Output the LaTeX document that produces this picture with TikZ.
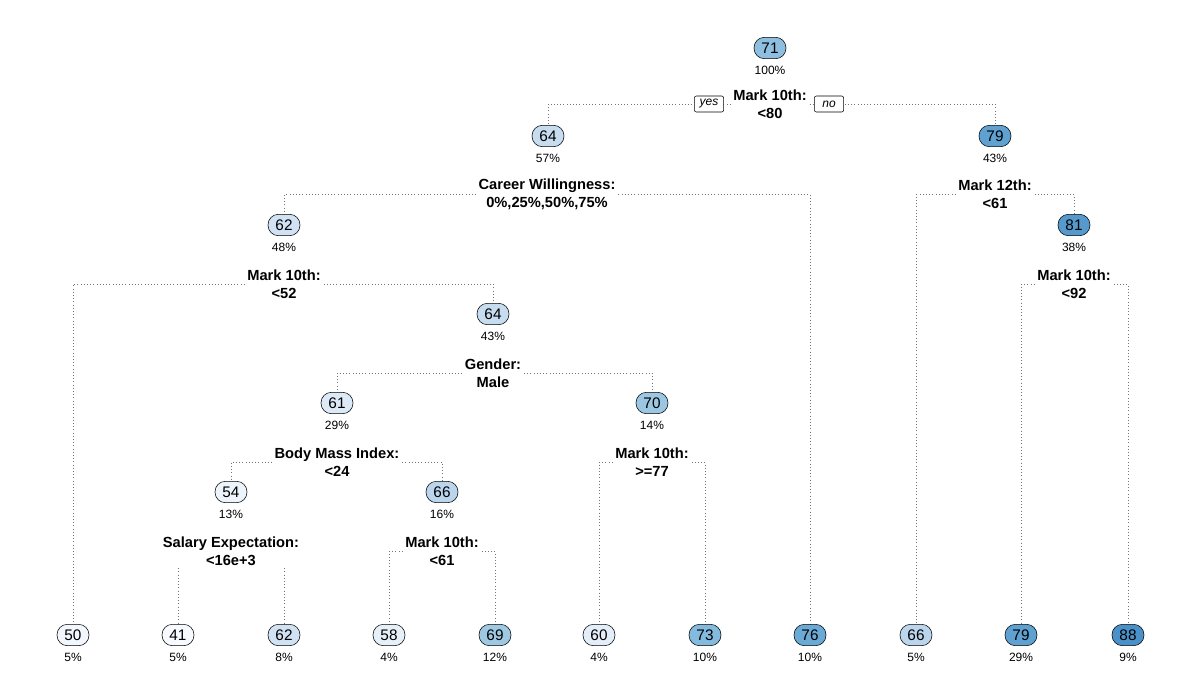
\documentclass[tikz,border=0pt]{standalone}
\usepackage{fontspec}
\setmainfont{Liberation Sans}
\usetikzlibrary{calc,positioning}
\definecolor{b41}{RGB}{247,251,255}
\definecolor{b50}{RGB}{242,247,253}
\definecolor{b54}{RGB}{237,244,251}
\definecolor{b58}{RGB}{230,240,249}
\definecolor{b60}{RGB}{227,238,249}
\definecolor{b61}{RGB}{220,233,246}
\definecolor{b62}{RGB}{208,226,243}
\definecolor{b64}{RGB}{199,220,239}
\definecolor{b66}{RGB}{187,213,236}
\definecolor{b69}{RGB}{159,201,227}
\definecolor{b70}{RGB}{156,199,226}
\definecolor{b71}{RGB}{143,191,224}
\definecolor{b73}{RGB}{132,186,221}
\definecolor{b76}{RGB}{106,170,213}
\definecolor{b79}{RGB}{95,161,208}
\definecolor{b81}{RGB}{85,153,205}
\definecolor{b88}{RGB}{74,145,202}
\pgfdeclarelayer{bg}
\pgfsetlayers{bg,main}

\begin{document}
\begin{tikzpicture}[x=0.75pt,y=-0.75pt]

\tikzset{line/.style={draw,semithick}}
\tikzset{conn/.style={draw=black!55,thin,dotted}}
\tikzset{boxnode/.style={line,thin,rectangle,rounded corners=7.8pt,inner sep=0pt,minimum width=24pt,minimum height=16pt,font=\fontsize{11.5}{12}\selectfont}}
\tikzset{pct/.style={inner sep=0pt,font=\fontsize{9}{10}\selectfont}}
\tikzset{split/.style={fill=white,inner sep=2pt,align=center,font=\fontsize{11}{13.5}\selectfont\bfseries}}
\tikzset{yesno/.style={draw,thin,fill=white,rounded corners=1.5pt,inner sep=0pt,minimum width=22pt,minimum height=12pt,font=\fontsize{9}{10}\selectfont\itshape}}

\useasboundingbox (0,0) rectangle (1200,700);

% inner nodes
\node[boxnode,fill=b71] (n71) at (770,48) {71};
\node[pct] (p71) at (770,70) {100\%};
\node[boxnode,fill=b64] (n64a) at (548,136) {64};
\node[pct] (p64a) at (548,158) {57\%};
\node[boxnode,fill=b79] (n79a) at (995,136) {79};
\node[pct] (p79a) at (995,158) {43\%};
\node[boxnode,fill=b62] (n62a) at (284,225) {62};
\node[pct] (p62a) at (284,247) {48\%};
\node[boxnode,fill=b81] (n81) at (1074,225) {81};
\node[pct] (p81) at (1074,247) {38\%};
\node[boxnode,fill=b64] (n64b) at (493,314) {64};
\node[pct] (p64b) at (493,336) {43\%};
\node[boxnode,fill=b61] (n61) at (337,403) {61};
\node[pct] (p61) at (337,425) {29\%};
\node[boxnode,fill=b70] (n70) at (652,403) {70};
\node[pct] (p70) at (652,425) {14\%};
\node[boxnode,fill=b54] (n54) at (231,492) {54};
\node[pct] (p54) at (231,514) {13\%};
\node[boxnode,fill=b66] (n66a) at (442,492) {66};
\node[pct] (p66a) at (442,514) {16\%};

% leaves
\node[boxnode,fill=b50] (l50) at (73,635) {50};
\node[pct] at (73,657) {5\%};
\node[boxnode,fill=b41] (l41) at (178,635) {41};
\node[pct] at (178,657) {5\%};
\node[boxnode,fill=b62] (l62) at (284,635) {62};
\node[pct] at (284,657) {8\%};
\node[boxnode,fill=b58] (l58) at (389,635) {58};
\node[pct] at (389,657) {4\%};
\node[boxnode,fill=b69] (l69) at (495,635) {69};
\node[pct] at (495,657) {12\%};
\node[boxnode,fill=b60] (l60) at (599,635) {60};
\node[pct] at (599,657) {4\%};
\node[boxnode,fill=b73] (l73) at (705,635) {73};
\node[pct] at (705,657) {10\%};
\node[boxnode,fill=b76] (l76) at (810,635) {76};
\node[pct] at (810,657) {10\%};
\node[boxnode,fill=b66] (l66) at (916,635) {66};
\node[pct] at (916,657) {5\%};
\node[boxnode,fill=b79] (l79) at (1021,635) {79};
\node[pct] at (1021,657) {29\%};
\node[boxnode,fill=b88] (l88) at (1128,635) {88};
\node[pct] at (1128,657) {9\%};

% split labels
\node[split] (s1) at (770,104) {Mark 10th:\\<80};
\node[split] (s2) at (547,194.5) {Career Willingness:\\0\%,25\%,50\%,75\%};
\node[split] (s3) at (995,194.5) {Mark 12th:\\<61};
\node[split] (s4) at (284,284) {Mark 10th:\\<52};
\node[split] (s5) at (1074,284) {Mark 10th:\\<92};
\node[split] (s6) at (493,373) {Gender:\\Male};
\node[split] (s7) at (337,462) {Body Mass Index:\\<24};
\node[split] (s8) at (652,462) {Mark 10th:\\>=77};
\node[split] (s9) at (231,551) {Salary Expectation:\\<16e+3};
\node[split] (s10) at (442,551) {Mark 10th:\\<61};

\node[yesno] (yes) at (709,104) {yes};
\node[yesno] (no) at (829,104) {no};

\begin{pgfonlayer}{bg}
\path[conn] (s1) -| (n64a);
\path[conn] (s1) -| (n79a);
\path[conn] (s2) -| (n62a);
\path[conn] (s2) -| (l76);
\path[conn] (s3) -| (l66);
\path[conn] (s3) -| (n81);
\path[conn] (s4) -| (l50);
\path[conn] (s4) -| (n64b);
\path[conn] (s5) -| (l79);
\path[conn] (s5) -| (l88);
\path[conn] (s6) -| (n61);
\path[conn] (s6) -| (n70);
\path[conn] (s7) -| (n54);
\path[conn] (s7) -| (n66a);
\path[conn] (s8) -| (l60);
\path[conn] (s8) -| (l73);
\path[conn] (s9) -| (l41);
\path[conn] (s9) -| (l62);
\path[conn] (s10) -| (l58);
\path[conn] (s10) -| (l69);
\end{pgfonlayer}

\end{tikzpicture}
\end{document}
